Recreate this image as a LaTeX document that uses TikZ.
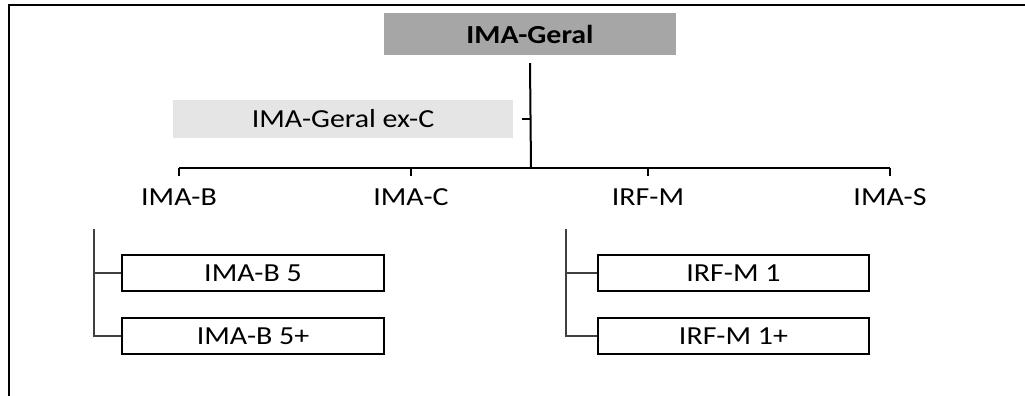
\documentclass[tikz,border=0pt]{standalone}
\usepackage{fontspec}
\setmainfont{Carlito}[FakeStretch=1.15]
\usepackage{xcolor}
\usetikzlibrary{calc}

\begin{document}
\begin{tikzpicture}[x=1pt,y=-1pt,
  every node/.style={inner sep=0pt, font=\fontsize{26}{30}\selectfont},
  subbox/.style={draw, line width=1.8pt, minimum height=36pt},
  tree/.style={line width=1.1pt, black!75}]
\useasboundingbox (0,0) rectangle (1025,396);
\draw [line width=1.6pt] (9,396) -- (9,5) -- (1025,5);
\node [fill=black!35, minimum width=292pt, minimum height=42pt,
  font=\bfseries\fontsize{26}{30}\selectfont] (geral) at (530,34) {IMA-Geral};
\node [fill=black!10, minimum width=340pt, minimum height=38pt] (exc) at (343,119) {IMA-Geral ex-C};
\coordinate (bar) at (531,168);
\draw [line width=2pt] ($(geral.south)+(0,8)$) -- (bar);
\draw [line width=1.4pt, shorten <=9pt] (exc.east) -- (exc.east -| bar);
\node (imab) at (179,197) {IMA-B};
\node (imac) at (411,197) {IMA-C};
\node (irfm) at (648,197) {IRF-M};
\node (imas) at (890,197) {IMA-S};
\draw [line width=2pt] (imab |- bar) -- (imas |- bar);
\foreach \n in {imab,imac,irfm,imas}
  \draw [line width=1.4pt] (\n |- bar) -- ++(0,8);
% sub-indices
\node [subbox, minimum width=262pt] (imab5) at (253,273) {IMA-B 5};
\node [subbox, minimum width=262pt] (imab5p) at (253,336) {IMA-B 5+};
\node [subbox, minimum width=271pt] (irfm1) at (733.5,273) {IRF-M 1};
\node [subbox, minimum width=271pt] (irfm1p) at (733.5,336) {IRF-M 1+};
\coordinate (tl) at (94,229);
\coordinate (tr) at (566,229);
\draw [tree] (tl) |- (imab5.west);
\draw [tree] (tl) |- (imab5p.west);
\draw [tree] (tr) |- (irfm1.west);
\draw [tree] (tr) |- (irfm1p.west);
\end{tikzpicture}
\end{document}
